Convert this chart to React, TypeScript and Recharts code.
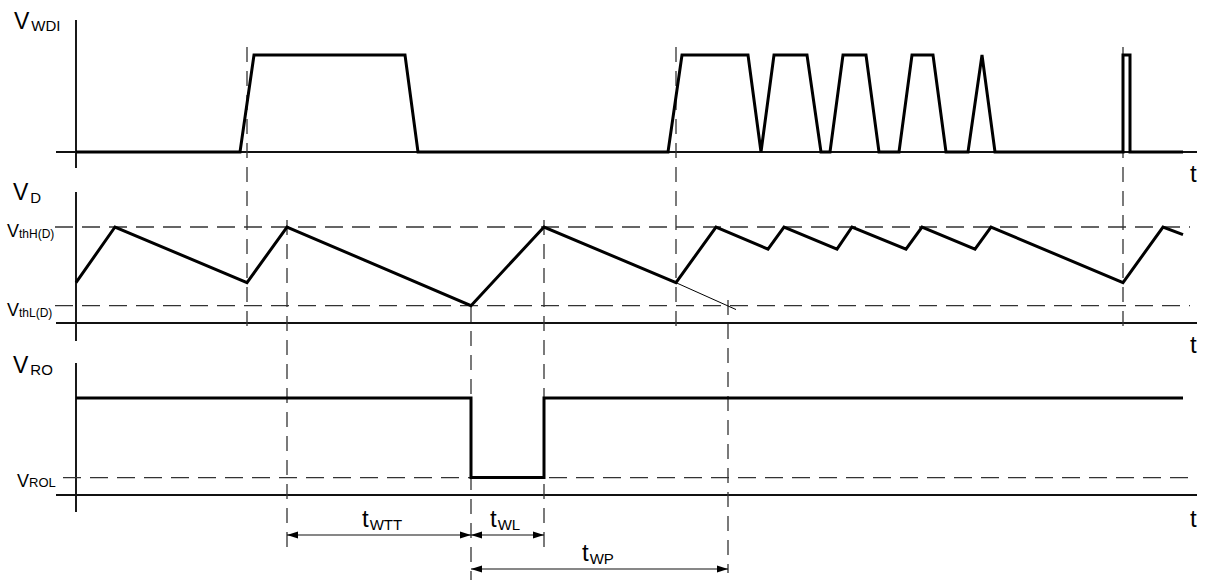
import React from 'react';
import { ComposedChart, Line, XAxis, YAxis, ReferenceLine } from 'recharts';

const W = 1208;
const H = 580;

// time in ms, levels normalised per signal
const wdiTime = [0, 16.4, 17.8, 32.9, 34.2, 59.2, 60.6, 67.2, 68.5, 69.8, 73.1, 74.5, 75.4, 76.7, 79.0, 80.3, 82.3, 83.6, 85.7, 87.0, 89.2, 90.6, 91.9, 104.7, 104.7, 105.4, 105.4, 110.7];
const wdiLevel = [0, 0, 1, 1, 0, 0, 1, 1, 0, 1, 1, 0, 0, 1, 1, 0, 0, 1, 1, 0, 0, 1, 0, 0, 1, 1, 0, 0];

const vdTime = [0, 3.9, 17.1, 21.1, 39.5, 46.8, 60.0, 64.0, 69.2, 70.8, 76.1, 77.6, 83.0, 84.6, 89.9, 91.5, 104.7, 108.7, 110.7];
const vdLevel = [0.42, 1, 0.42, 1, 0.18, 1, 0.42, 1, 0.77, 1, 0.77, 1, 0.77, 1, 0.77, 1, 0.42, 1, 0.92];
const VTH_H = 1;
const VTH_L = 0.18;
const extraTime = [60.0, 66.0];
const extraLevel = [0.42, 0.14];

const roTime = [0, 39.5, 39.5, 46.8, 46.8, 110.7];
const roLevel = [1, 1, 0.18, 0.18, 1, 1];
const VROL = 0.18;

const tWTT = [21.1, 39.5];
const tWL = [39.5, 46.8];
const tWP = [39.5, 65.2];

const zip = (t: number[], v: number[]) => t.map((x, i) => ({ t: x, v: v[i] }));
const wdiData = zip(wdiTime, wdiLevel);
const vdData = zip(vdTime, vdLevel);
const extraData = zip(extraTime, extraLevel);
const roData = zip(roTime, roLevel);

// layout: pixel of level 0 and level 1 for each panel
const panels = {
  wdi: { zero: 152, one: 55 },
  vd: { zero: 323, one: 227 },
  ro: { zero: 495, one: 398 },
};
const dom = (p: { zero: number; one: number }): [number, number] => {
  const u = p.zero - p.one;
  return [(p.zero - H) / u, p.zero / u];
};
const px2t = (px: number) => (px - 76) / 10;

const X0 = px2t(56);
const X1 = px2t(1197);
const XD = px2t(1190);

// dashed guide lines: time, top px, bottom px
const guides = [
  { t: 17.1, a: 47, b: 332 },
  { t: 60.0, a: 47, b: 332 },
  { t: 104.7, a: 47, b: 332 },
  { t: 21.1, a: 220, b: 547 },
  { t: 46.8, a: 220, b: 547 },
  { t: 39.5, a: 307, b: 580 },
  { t: 65.2, a: 300, b: 573 },
];

const axesV = [
  { a: 20, b: 168 },
  { a: 192, b: 341 },
  { a: 363, b: 512 },
];
const baselines = [152, 323, 495];

const ArrowShape = (p: any) => {
  const xa = Math.min(p.x1, p.x2);
  const xb = Math.max(p.x1, p.x2);
  const y = p.y1;
  const L = 11;
  const h = 3.5;
  return (
    <g>
      <line x1={xa} y1={y} x2={xb} y2={y} stroke="#111" strokeWidth={1.2} />
      <polygon points={`${xa},${y} ${xa + L},${y - h} ${xa + L},${y + h}`} fill="#000" />
      <polygon points={`${xb},${y} ${xb - L},${y - h} ${xb - L},${y + h}`} fill="#000" />
    </g>
  );
};

const FONT = '"Liberation Sans", Arial, sans-serif';

const Lbl = ({ x, y, main, sub, fs, ss, dx = 1, dy = 3 }: any) => (
  <text x={x} y={y} fontSize={fs} fontFamily={FONT} fill="#000">
    {main}
    {sub && (
      <tspan fontSize={ss} dx={dx} dy={dy}>
        {sub}
      </tspan>
    )}
  </text>
);

export default function App() {
  const sig = { stroke: '#000', strokeWidth: 3, dot: false, activeDot: false, isAnimationActive: false, type: 'linear' as const, strokeLinejoin: 'miter' as const };
  return (
    <div style={{ position: 'absolute', left: 0, top: 0, width: W, height: H, background: '#fff' }}>
      <ComposedChart width={W} height={H} margin={{ top: 0, right: 0, bottom: 0, left: 0 }}>
        <XAxis dataKey="t" type="number" domain={[px2t(0), px2t(W)]} allowDataOverflow hide />
        <YAxis yAxisId="px" type="number" domain={[0, H]} reversed allowDataOverflow hide />
        <YAxis yAxisId="wdi" type="number" domain={dom(panels.wdi)} allowDataOverflow hide />
        <YAxis yAxisId="vd" type="number" domain={dom(panels.vd)} allowDataOverflow hide />
        <YAxis yAxisId="ro" type="number" domain={dom(panels.ro)} allowDataOverflow hide />

        {axesV.map((a, i) => (
          <ReferenceLine key={'ax' + i} yAxisId="px" ifOverflow="visible" stroke="#000" strokeWidth={1.8}
            segment={[{ x: 0, y: a.a }, { x: 0, y: a.b }]} />
        ))}
        {baselines.map((y, i) => (
          <ReferenceLine key={'bl' + i} yAxisId="px" ifOverflow="visible" stroke="#111" strokeWidth={1.8}
            segment={[{ x: X0, y }, { x: X1, y }]} />
        ))}

        <ReferenceLine yAxisId="vd" ifOverflow="visible" stroke="#333" strokeWidth={1.3} strokeDasharray="18 9"
          segment={[{ x: px2t(55), y: VTH_H }, { x: XD, y: VTH_H }]} />
        <ReferenceLine yAxisId="vd" ifOverflow="visible" stroke="#333" strokeWidth={1.3} strokeDasharray="18 9"
          segment={[{ x: px2t(55), y: VTH_L }, { x: XD, y: VTH_L }]} />
        <ReferenceLine yAxisId="ro" ifOverflow="visible" stroke="#333" strokeWidth={1.3} strokeDasharray="18 9"
          segment={[{ x: px2t(63), y: VROL }, { x: XD, y: VROL }]} />

        {guides.map((g, i) => (
          <ReferenceLine key={'g' + i} yAxisId="px" ifOverflow="visible" stroke="#333" strokeWidth={1.3} strokeDasharray="15 9"
            segment={[{ x: g.t, y: g.a }, { x: g.t, y: g.b }]} />
        ))}

        <ReferenceLine yAxisId="px" ifOverflow="visible" shape={ArrowShape}
          segment={[{ x: tWTT[0], y: 535 }, { x: tWTT[1], y: 535 }]} />
        <ReferenceLine yAxisId="px" ifOverflow="visible" shape={ArrowShape}
          segment={[{ x: tWL[0], y: 535 }, { x: tWL[1], y: 535 }]} />
        <ReferenceLine yAxisId="px" ifOverflow="visible" shape={ArrowShape}
          segment={[{ x: tWP[0], y: 569 }, { x: tWP[1], y: 569 }]} />

        <Line {...sig} data={extraData} dataKey="v" yAxisId="vd" strokeWidth={1} />
        <Line {...sig} data={wdiData} dataKey="v" yAxisId="wdi" />
        <Line {...sig} data={vdData} dataKey="v" yAxisId="vd" />
        <Line {...sig} data={roData} dataKey="v" yAxisId="ro" />
      </ComposedChart>

      <svg width={W} height={H} style={{ position: 'absolute', left: 0, top: 0, pointerEvents: 'none' }}>
        <Lbl x={14} y={29} main="V" sub="WDI" fs={23} ss={15} dx={2} dy={2} />
        <Lbl x={13} y={200} main="V" sub="D" fs={23} ss={15} dx={2} dy={3} />
        <Lbl x={13} y={373} main="V" sub="RO" fs={23} ss={15} dx={2} dy={2} />
        <Lbl x={7} y={237} main="V" sub="thH(D)" fs={18} ss={12} dx={0} dy={1} />
        <Lbl x={7} y={316} main="V" sub="thL(D)" fs={18} ss={12} dx={0} dy={1} />
        <Lbl x={17} y={487} main="V" sub="ROL" fs={18} ss={13} dx={0} dy={0} />
        <Lbl x={1190} y={182} main="t" fs={24} />
        <Lbl x={1190} y={353} main="t" fs={24} />
        <Lbl x={1190} y={527} main="t" fs={24} />
        <Lbl x={362} y={527} main="t" sub="WTT" fs={24} ss={15} dx={1} dy={3} />
        <Lbl x={490} y={527} main="t" sub="WL" fs={24} ss={15} dx={1} dy={3} />
        <Lbl x={582} y={561} main="t" sub="WP" fs={24} ss={15} dx={1} dy={3} />
      </svg>
    </div>
  );
}
